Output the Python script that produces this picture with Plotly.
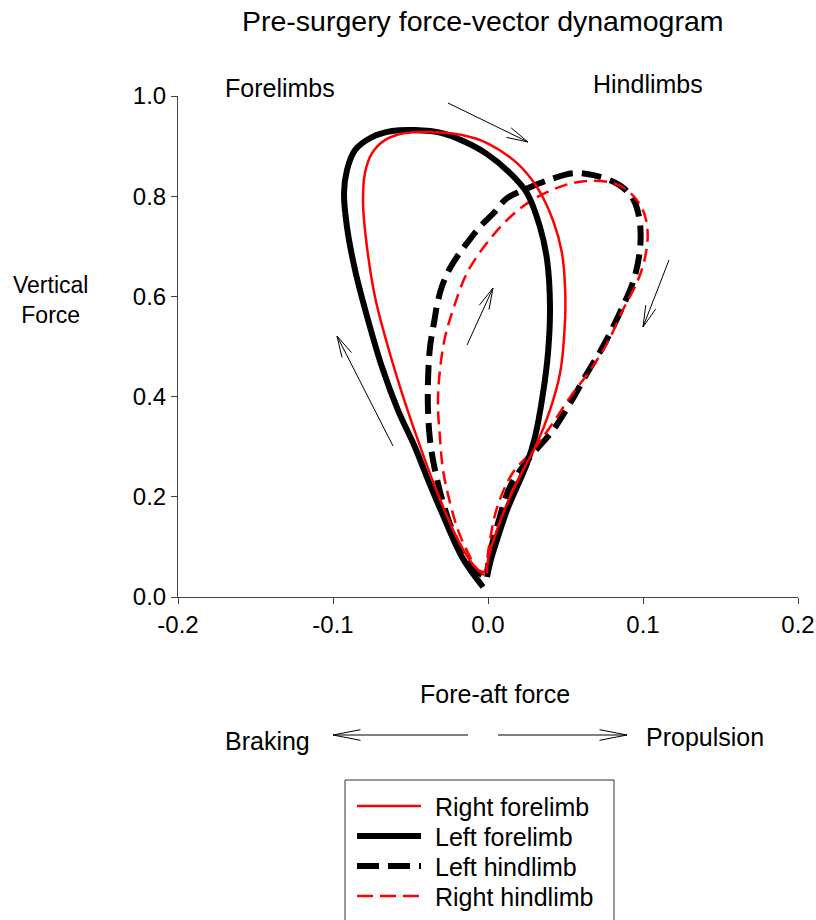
import plotly.graph_objects as go
import math

# ---------------- data ----------------
series_names = ["Right forelimb", "Left forelimb", "Left hindlimb", "Right hindlimb"]

right_fore_x = [-0.0026, -0.009, -0.0194, -0.0342, -0.0452, -0.0555, -0.0645, -0.0729, -0.0781, -0.0806,
                -0.0794, -0.0748, -0.0665, -0.0535, -0.0361, -0.0168, -0.0006, 0.0187, 0.0316, 0.0419,
                0.0477, 0.0497, 0.0497, 0.0465, 0.0400, 0.0316, 0.0226, 0.0142, 0.0058, 0.0, -0.0006]
right_fore_y = [0.044, 0.062, 0.114, 0.220, 0.313, 0.407, 0.499, 0.599, 0.699, 0.786,
                0.846, 0.886, 0.912, 0.926, 0.928, 0.922, 0.906, 0.866, 0.818, 0.752,
                0.687, 0.619, 0.553, 0.447, 0.373, 0.307, 0.253, 0.200, 0.134, 0.074, 0.048]

left_fore_x = [-0.0032, -0.0168, -0.0297, -0.0387, -0.0471, -0.0581, -0.0684, -0.0774, -0.0858, -0.0910,
               -0.0929, -0.0910, -0.0858, -0.0748, -0.0619, -0.0471, -0.0297, -0.0160, -0.0006, 0.0142,
               0.0252, 0.0335, 0.0381, 0.0400, 0.0387, 0.0355, 0.0303, 0.0252, 0.0187, 0.0123,
               0.0058, 0.0013, -0.0006]
left_fore_y = [0.020, 0.080, 0.168, 0.234, 0.299, 0.373, 0.459, 0.553, 0.653, 0.739,
               0.806, 0.852, 0.892, 0.918, 0.930, 0.932, 0.926, 0.910, 0.884, 0.846,
               0.806, 0.739, 0.673, 0.579, 0.487, 0.407, 0.319, 0.267, 0.220, 0.174,
               0.114, 0.068, 0.040]

left_hind_x = [-0.0039, -0.0084, -0.0168, -0.0232, -0.0290, -0.0342, -0.0374, -0.0387, -0.0387, -0.0374,
               -0.0342, -0.0329, -0.0300, -0.0258, -0.0200, -0.0129, -0.0052, 0.0035, 0.0123, 0.0271,
               0.0387, 0.0548, 0.068, 0.085, 0.094, 0.098, 0.098, 0.094, 0.085, 0.074,
               0.064, 0.053, 0.0419, 0.0271, 0.0142, 0.0058, 0.0013, -0.0006]
left_hind_y = [0.044, 0.054, 0.088, 0.134, 0.188, 0.253, 0.313, 0.373, 0.433, 0.499,
               0.559, 0.583, 0.617, 0.649, 0.679, 0.709, 0.739, 0.766, 0.796, 0.818,
               0.832, 0.846, 0.842, 0.822, 0.792, 0.747, 0.693, 0.633, 0.567, 0.499,
               0.447, 0.387, 0.333, 0.279, 0.220, 0.140, 0.088, 0.048]

right_hind_x = [-0.0019, -0.0065, -0.0129, -0.0194, -0.0245, -0.0290, -0.0310, -0.0323, -0.0310, -0.0277,
                -0.0226, -0.0135, -0.0006, 0.0142, 0.0316, 0.0574, 0.081, 0.092, 0.100, 0.103,
                0.101, 0.096, 0.087, 0.077, 0.066, 0.053, 0.040, 0.029, 0.016, 0.006,
                0.0013, -0.0013]
right_hind_y = [0.050, 0.054, 0.088, 0.134, 0.188, 0.253, 0.319, 0.387, 0.453, 0.519,
                0.573, 0.647, 0.707, 0.758, 0.798, 0.828, 0.826, 0.806, 0.772, 0.727,
                0.673, 0.627, 0.573, 0.507, 0.453, 0.399, 0.339, 0.293, 0.248, 0.180,
                0.114, 0.054]

x_ticks = [-0.2, -0.1, 0.0, 0.1, 0.2]
y_ticks = [0.0, 0.2, 0.4, 0.6, 0.8, 1.0]

# ---------------- figure ----------------
W, H = 816, 920
L, R, T, B = 178, 18, 96, 323
PW, PH = W - L - R, H - T - B
FONT = "Liberation Sans, Arial, sans-serif"

colors = ["#ff0000", "#000000", "#000000", "#ff0000"]
widths = [2.5, 6, 6, 2.5]
dashes = ["solid", "solid", "20px,9px", "13px,7px"]
xs = [right_fore_x, left_fore_x, left_hind_x, right_hind_x]
ys = [right_fore_y, left_fore_y, left_hind_y, right_hind_y]

fig = go.Figure()
for i in [2, 3, 1, 0]:
    fig.add_trace(go.Scatter(
        x=xs[i], y=ys[i], mode="lines", name=series_names[i],
        line=dict(color=colors[i], width=widths[i], dash=dashes[i], shape="spline", smoothing=1.0),
        showlegend=False, hoverinfo="skip"))


def px2paper(px, py):
    return (px - L) / PW, (H - B - py) / PH


shapes = []
annotations = []


def arrow(x0, y0, x1, y1, head=22, ang=14):
    a0 = px2paper(x0, y0)
    a1 = px2paper(x1, y1)
    shapes.append(dict(type="line", xref="paper", yref="paper", x0=a0[0], y0=a0[1], x1=a1[0], y1=a1[1],
                       line=dict(color="black", width=1)))
    th = math.atan2(y0 - y1, x0 - x1)
    for s in (-1, 1):
        t = th + s * math.radians(ang)
        hx, hy = x1 + head * math.cos(t), y1 + head * math.sin(t)
        h = px2paper(hx, hy)
        shapes.append(dict(type="line", xref="paper", yref="paper", x0=a1[0], y0=a1[1], x1=h[0], y1=h[1],
                           line=dict(color="black", width=1)))


# direction arrows in plot
arrow(448, 103, 528, 142)
arrow(393, 446, 337, 336)
arrow(467, 345, 493, 288)
arrow(669, 260, 643, 327)
# braking / propulsion arrows
arrow(468, 735, 333, 735, head=28, ang=11)
arrow(498, 735, 627, 735, head=28, ang=11)


def text(px, py, s, size=25, xanchor="center", yanchor="middle", align="center"):
    x, y = px2paper(px, py)
    annotations.append(dict(x=x, y=y, xref="paper", yref="paper", text=s, showarrow=False,
                            xanchor=xanchor, yanchor=yanchor, align=align,
                            font=dict(family=FONT, size=size, color="black")))


text(483, 21, "Pre-surgery force-vector dynamogram", size=28.5)
text(280, 88, "Forelimbs")
text(648, 84, "Hindlimbs")
text(50, 300, "Vertical<br>Force", size=23)
text(495, 694, "Fore-aft force")
text(267, 741, "Braking")
text(705, 737, "Propulsion")

# legend box
lx0, lx1, ly0 = 345, 614, 780
p0 = px2paper(lx0, ly0)
p1 = px2paper(lx1, H + 5)
shapes.append(dict(type="rect", xref="paper", yref="paper", x0=p0[0], y0=p1[1], x1=p1[0], y1=p0[1],
                   line=dict(color="#333333", width=1), fillcolor="rgba(0,0,0,0)"))
leg_rows = [806, 836, 866, 896]
leg_dash = ["solid", "solid", "22px,9px", "16px,7px"]
for i, ry in enumerate(leg_rows):
    a = px2paper(357, ry)
    b = px2paper(421, ry)
    shapes.append(dict(type="line", xref="paper", yref="paper", x0=a[0], y0=a[1], x1=b[0], y1=b[1],
                       line=dict(color=colors[i], width=widths[i], dash=leg_dash[i])))
    text(433, ry + 1, series_names[i], xanchor="left")

axis_common = dict(showgrid=False, zeroline=False, showline=True, linecolor="#444444", linewidth=1,
                   ticks="outside", ticklen=6, tickcolor="#444444", tickfont=dict(size=24),
                   fixedrange=True, automargin=False, ticklabeloverflow="allow")

fig.update_layout(
    width=W, height=H,
    margin=dict(l=L, r=R, t=T, b=B),
    plot_bgcolor="white", paper_bgcolor="white",
    font=dict(family=FONT, size=24, color="black"),
    shapes=shapes, annotations=annotations,
    showlegend=False,
    xaxis=dict(range=[-0.2, 0.2], tickvals=x_ticks, ticktext=[f"{v:.1f}" for v in x_ticks], **axis_common),
    yaxis=dict(range=[0, 1], tickvals=y_ticks, ticktext=[f"{v:.1f}" for v in y_ticks], **axis_common),
)

fig.write_html("out.html", config={"displayModeBar": False})
